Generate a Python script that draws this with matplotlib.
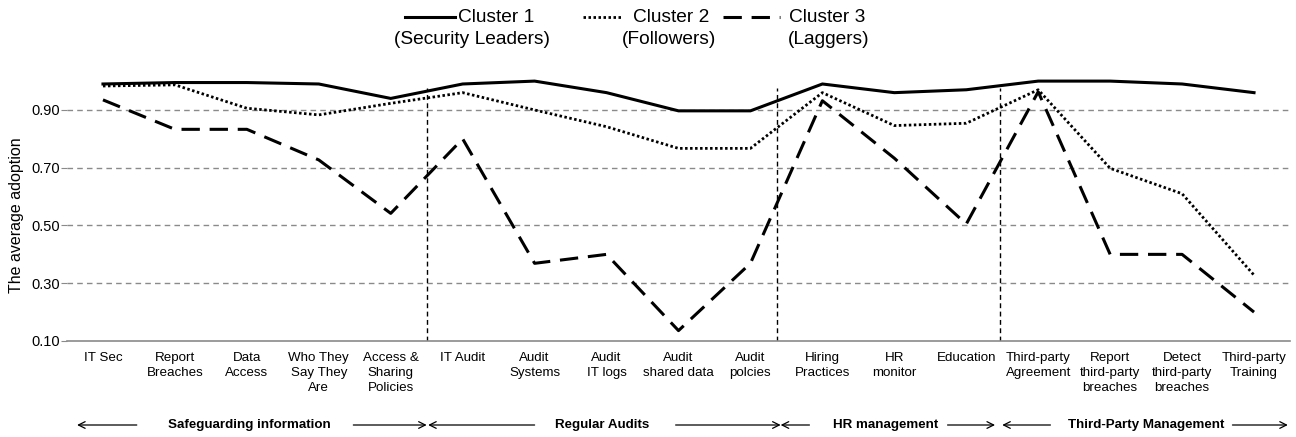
import matplotlib
matplotlib.use("Agg")
import matplotlib.pyplot as plt
from matplotlib.lines import Line2D
import matplotlib.transforms as mtransforms

plt.rcParams['font.family'] = ['Liberation Sans', 'DejaVu Sans']

categories = ["IT Sec", "Report\nBreaches", "Data\nAccess", "Who They\nSay They\nAre",
              "Access &\nSharing\nPolicies", "IT Audit", "Audit\nSystems", "Audit\nIT logs",
              "Audit\nshared data", "Audit\npolcies", "Hiring\nPractices", "HR\nmonitor",
              "Education", "Third-party\nAgreement", "Report\nthird-party\nbreaches",
              "Detect\nthird-party\nbreaches", "Third-party\nTraining"]

cluster1 = [0.99, 0.995, 0.995, 0.99, 0.94, 0.99, 1.0, 0.96, 0.897, 0.897,
            0.99, 0.96, 0.97, 1.0, 1.0, 0.99, 0.96]
cluster2 = [0.983, 0.987, 0.906, 0.883, 0.923, 0.96, 0.90, 0.842, 0.767, 0.767,
            0.96, 0.846, 0.854, 0.97, 0.698, 0.61, 0.328]
cluster3 = [0.935, 0.833, 0.833, 0.727, 0.542, 0.80, 0.369, 0.40, 0.136, 0.369,
            0.932, 0.733, 0.505, 0.963, 0.40, 0.40, 0.20]

yticks = [0.10, 0.30, 0.50, 0.70, 0.90]
separators = [4.5, 9.37, 12.47]
groups = ["Safeguarding information", "Regular Audits", "HR management", "Third-Party Management"]
group_text_x = [2.03, 6.94, 10.88, 14.5]
group_left_arrows = [(-0.36, 0.47), (4.52, 6.0), (9.42, 9.82), (12.5, 13.17)]
group_right_arrows = [(3.48, 4.5), (7.96, 9.42), (11.74, 12.4), (15.7, 16.47)]

W, H = 1296, 437
fig = plt.figure(figsize=(W / 100, H / 100), dpi=100)
ax_left, ax_right, ax_bottom_px, ax_top_px = 67, 1290, 341, 81.1
ax = fig.add_axes([ax_left / W, 1 - ax_bottom_px / H, (ax_right - ax_left) / W,
                   (ax_bottom_px - ax_top_px) / H])

x = list(range(len(categories)))
ax.plot(x, cluster1, color='black', lw=2.2, solid_joinstyle='miter', clip_on=False, zorder=5)
ax.plot(x, cluster2, color='black', lw=2.0, linestyle=(0, (0.9, 0.9)), clip_on=False, zorder=5)
ax.plot(x, cluster3, color='black', lw=2.2, linestyle=(0, (6, 3.2)), clip_on=False, zorder=5)

for yv in yticks[1:]:
    ax.axhline(yv, color='#8a8a8a', lw=1.0, linestyle=(0, (4, 3)), zorder=1)

ax.vlines(separators, 0.1, 0.975, colors='black', lw=1.0, linestyles=[(0, (3.5, 2.5))], zorder=2)

ax.set_xlim(-0.5, len(categories) - 0.5)
ax.set_ylim(0.1, 1.0)
ax.set_yticks(yticks)
ax.set_yticklabels([f"{v:.2f}" for v in yticks], fontsize=10.5)
ax.set_xticks(x)
ax.set_xticklabels(categories, fontsize=9.6, linespacing=1.32)
ax.tick_params(axis='x', length=0, pad=8)
ax.tick_params(axis='y', length=4, color='#8a8a8a', pad=1)
for s in ['top', 'right', 'left']:
    ax.spines[s].set_visible(False)
ax.spines['bottom'].set_color('#8a8a8a')
ax.spines['bottom'].set_linewidth(1.2)

fig.text(17 / W, 1 - 215 / H, "The average adoption", rotation=90, ha='center', va='center',
         fontsize=11.5)

# group labels and arrows (data x, figure y)
trans = mtransforms.blended_transform_factory(ax.transData, fig.transFigure)
gy = 1 - 425 / H
for name, tx, la, ra in zip(groups, group_text_x, group_left_arrows, group_right_arrows):
    ax.text(tx, gy, name, transform=trans, ha='center', va='center', fontsize=9.6,
            fontweight='bold', clip_on=False)
    ax.annotate("", xy=(la[0], gy), xytext=(la[1], gy), xycoords=trans, textcoords=trans,
                arrowprops=dict(arrowstyle='->', lw=0.9, color='black',
                                shrinkA=0, shrinkB=0, mutation_scale=12), annotation_clip=False)
    ax.annotate("", xy=(ra[1], gy), xytext=(ra[0], gy), xycoords=trans, textcoords=trans,
                arrowprops=dict(arrowstyle='->', lw=0.9, color='black',
                                shrinkA=0, shrinkB=0, mutation_scale=12), annotation_clip=False)

# legend drawn in figure pixels
def fx(px):
    return px / W

def fy(py):
    return 1 - py / H

ly1, ly2 = 17, 39
fig.add_artist(Line2D([fx(405), fx(455)], [fy(ly1), fy(ly1)], color='black', lw=2.2))
fig.add_artist(Line2D([fx(583), fx(623)], [fy(ly1), fy(ly1)], color='black', lw=2.0,
                      linestyle=(0, (0.9, 0.9))))
fig.add_artist(Line2D([fx(723), fx(780)], [fy(ly1), fy(ly1)], color='black', lw=2.2,
                      linestyle=(0, (6, 3.2))))
lfs = 13.8
fig.text(fx(458), fy(ly1), "Cluster 1", ha='left', va='center', fontsize=lfs)
fig.text(fx(472.5), fy(ly2), "(Security Leaders)", ha='center', va='center', fontsize=lfs)
fig.text(fx(633), fy(ly1), "Cluster 2", ha='left', va='center', fontsize=lfs)
fig.text(fx(669.5), fy(ly2), "(Followers)", ha='center', va='center', fontsize=lfs)
fig.text(fx(789), fy(ly1), "Cluster 3", ha='left', va='center', fontsize=lfs)
fig.text(fx(828.5), fy(ly2), "(Laggers)", ha='center', va='center', fontsize=lfs)

fig.savefig("out.png", dpi=100)
